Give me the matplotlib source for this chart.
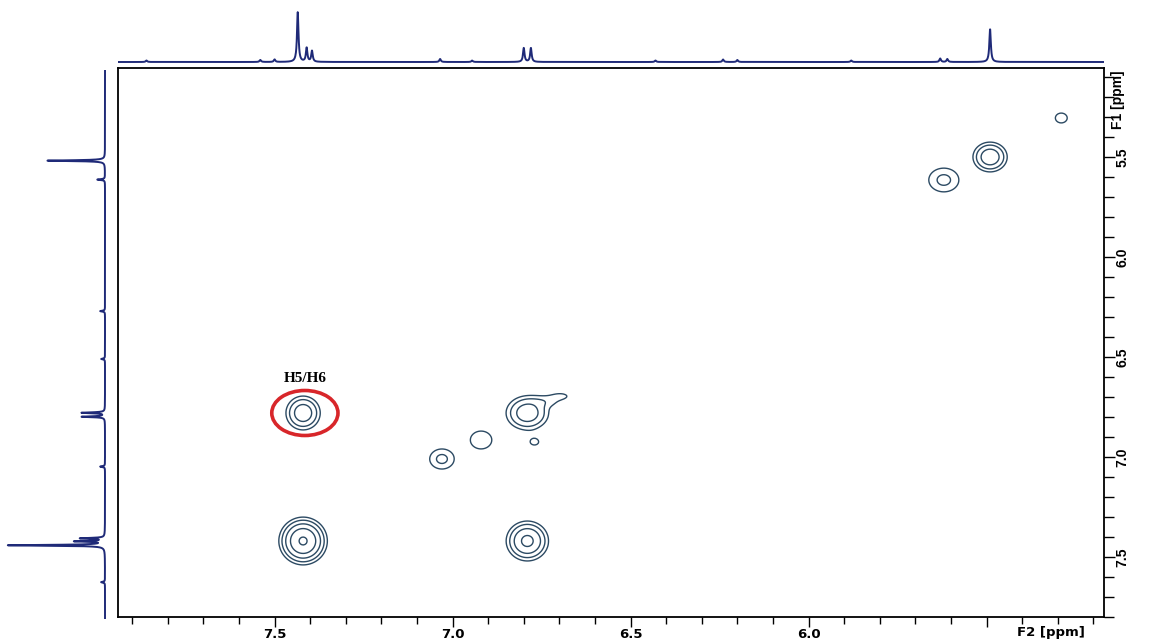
import numpy as np
import matplotlib.pyplot as plt
from matplotlib.patches import Ellipse
from matplotlib.ticker import MultipleLocator

# COSY cross/diagonal peaks (F2 ppm, F1 ppm, amplitude, widths in ppm)
peak_f2 = [7.42, 6.79, 7.42, 6.79, 6.735, 6.695, 7.03, 6.92, 6.77, 5.49, 5.62, 5.29]
peak_f1 = [7.42, 7.42, 6.78, 6.78, 6.72, 6.695, 7.01, 6.915, 6.925, 5.50, 5.615, 5.305]
peak_amp = [17.3, 9.5, 6.35, 6.35, 1.25, 1.15, 2.38, 1.6, 1.15, 6.8, 2.38, 1.3]
peak_sx = [0.0285, 0.028, 0.025, 0.031, 0.030, 0.022, 0.026, 0.031, 0.021, 0.0245, 0.032, 0.023]
peak_sy = [0.050, 0.047, 0.044, 0.044, 0.022, 0.015, 0.038, 0.046, 0.028, 0.038, 0.045, 0.034]
levels = [1, 2, 4, 8, 16]

# 1H projection along F2 (top)
top_shift = [7.435, 7.41, 7.395, 6.80, 6.78, 5.49, 7.035, 6.945, 5.63, 5.61,
             6.24, 6.20, 7.54, 7.50, 7.86, 6.43, 5.88]
top_height = [1.0, 0.28, 0.22, 0.28, 0.28, 0.66, 0.06, 0.03, 0.07, 0.06,
              0.05, 0.04, 0.04, 0.05, 0.03, 0.03, 0.03]

# 1H projection along F1 (left)
left_shift = [7.435, 7.415, 7.40, 6.79, 6.77, 5.505, 5.60, 7.04, 6.26, 6.50, 7.62]
left_height = [1.0, 0.30, 0.25, 0.24, 0.24, 0.60, 0.08, 0.05, 0.05, 0.04, 0.04]

x_ticks = [7.5, 7.0, 6.5, 6.0, 5.5]
x_labels = ["7.5", "7.0", "6.5", "6.0", ""]

f2_lim = (7.94, 5.17)
f1_lim = (7.80, 5.055)

line_col = "#1f2a78"
cont_col = "#2c4a63"

fig = plt.figure(figsize=(11.53, 6.44), dpi=100)
W, H = 1153, 644

ax = fig.add_axes([118 / W, 27 / H, 986 / W, 549 / H])
ax_top = fig.add_axes([118 / W, 578 / H, 986 / W, 58 / H])
ax_left = fig.add_axes([5 / W, 22 / H, 107 / W, 556 / H])

# 2D map
x = np.linspace(5.1, 8.0, 700)
y = np.linspace(5.0, 7.9, 600)
X, Y = np.meshgrid(x, y)
Z = np.zeros_like(X)
for cx, cy, a, sx, sy in zip(peak_f2, peak_f1, peak_amp, peak_sx, peak_sy):
    Z += a * np.exp(-((X - cx) ** 2 / (2 * sx ** 2) + (Y - cy) ** 2 / (2 * sy ** 2)))

ax.contour(X, Y, Z, levels=levels, colors=cont_col, linewidths=1.0)

ax.add_patch(Ellipse((7.415, 6.78), 0.186, 0.225, fill=False,
                     edgecolor="#d8262a", linewidth=2.6))
ax.text(7.415, 6.605, "H5/H6", ha="center", va="center", fontsize=11,
        fontweight="bold", family="Liberation Serif")

ax.set_xlim(*f2_lim)
ax.set_ylim(*f1_lim)
ax.set_xticks(x_ticks, x_labels)
ax.xaxis.set_minor_locator(MultipleLocator(0.1))
ax.yaxis.set_major_locator(MultipleLocator(0.5))
ax.yaxis.set_minor_locator(MultipleLocator(0.1))
ax.yaxis.tick_right()
ax.tick_params(axis="both", which="both", direction="out", width=1.0, color="black")
ax.tick_params(axis="x", which="major", length=7, pad=1)
ax.tick_params(axis="x", which="minor", length=5)
ax.tick_params(axis="y", which="major", length=8, pad=0.5)
ax.tick_params(axis="y", which="minor", length=7)
for lab in ax.get_xticklabels():
    lab.set_fontfamily("DejaVu Sans")
    lab.set_fontweight("bold")
    lab.set_fontsize(9.5)
for lab in ax.get_yticklabels():
    lab.set_fontfamily("Liberation Sans")
    lab.set_fontweight("bold")
    lab.set_fontsize(10)
    lab.set_rotation(90)
    lab.set_va("center")
for sp in ax.spines.values():
    sp.set_linewidth(1.3)

ax.annotate("F2 [ppm]", xy=(5.32, 0), xycoords=("data", "axes fraction"),
            xytext=(0, -11.5), textcoords="offset points", ha="center", va="center",
            fontsize=9.5, fontweight="bold", family="DejaVu Sans")
ax.annotate("F1 [ppm]", xy=(1, 5.215), xycoords=("axes fraction", "data"),
            xytext=(10, 0), textcoords="offset points", ha="center", va="center",
            rotation=90, fontsize=10, fontweight="bold", family="Liberation Sans")


def spectrum(grid, shifts, heights, hw=0.0025):
    s = np.zeros_like(grid)
    for c, h in zip(shifts, heights):
        s += h * hw ** 2 / ((grid - c) ** 2 + hw ** 2)
    return s


# top projection
g = np.linspace(5.17, 7.94, 5000)
ax_top.plot(g, spectrum(g, top_shift, top_height), color=line_col, linewidth=1.4)
ax_top.set_xlim(*f2_lim)
ax_top.set_ylim(-0.08, 1.08)
ax_top.axis("off")

# left projection
g = np.linspace(5.055, 7.80, 5000)
ax_left.plot(spectrum(g, left_shift, left_height), g, color=line_col, linewidth=1.4)
ax_left.set_xlim(1.031, -0.072)
ax_left.set_ylim(7.82, 5.03)
ax_left.axis("off")

fig.savefig("out.png", dpi=100)
